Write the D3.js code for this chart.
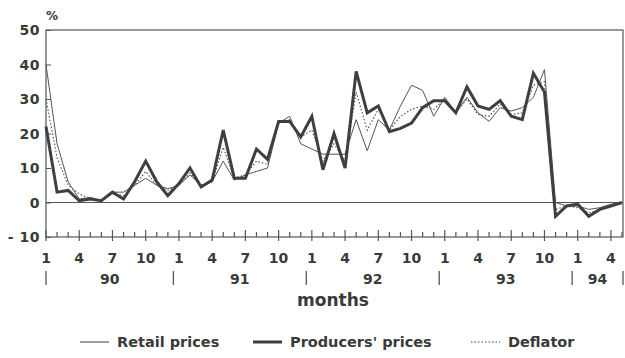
<!DOCTYPE html>
<html lang="en">
<head>
<meta charset="utf-8"/>
<script src="https://d3js.org/d3.v7.min.js"></script>
<style>
  body { margin: 0; background: #fff; }
  text { font-family: "DejaVu Sans", Arial, sans-serif; font-weight: bold; fill: #3a3a3a; }
</style>
</head>
<body>
<div id="chart"></div>
<script>
// monthly growth rates, Jan 1990 .. May 1994
var months = d3.range(53).map(function (i) { return (i % 12) + 1; });
var years = ["90", "91", "92", "93", "94"];

var retail = [40, 17, 6, 1, 1.5, 0.5, 3, 3, 5, 7, 5, 4,
              5, 8, 5, 6, 12, 6.5, 8, 9, 10, 23, 25, 17,
              15.5, 14, 14, 14, 24, 15, 24, 21, 28, 34, 32.5, 25,
              30.5, 26, 30.5, 26, 23.5, 27.5, 26.5, 27.5, 30.5, 38.5, 0, -1,
              -1, -2, -1.5, -0.5, 0];
var producers = [22, 3, 3.5, 0.5, 1, 0.5, 3, 1, 6, 12, 6, 2,
                 5.5, 10, 4.5, 6.5, 21, 7, 7, 15.5, 12.5, 23.5, 23.5, 19,
                 25, 9.5, 20, 10, 38, 26, 28, 20.5, 21.5, 23, 27.5, 29.5,
                 29.5, 26, 33.5, 28, 27, 29.5, 25, 24, 37.5, 32, -4, -1,
                 -0.5, -4, -2, -1, 0];
var deflator = [30, 13, 5, 2.5, 1, 0.5, 2.5, 2, 5, 9, 5, 3.5,
                5, 8.5, 5, 6, 16, 7, 8, 12, 11, 23, 24, 19,
                21, 12, 17, 12, 32, 21, 27, 21, 25, 27, 28, 27,
                30, 26, 30, 25.5, 25, 28.5, 25.5, 26, 34, 35, -2, -1,
                -1.5, -3, -2, -1, 0];
var yTicks = [-10, 0, 10, 20, 30, 40, 50];

var width = 625, height = 358;
var plotL = 46, plotR = 623, plotT = 30, plotB = 237;

var svg = d3.select("#chart").append("svg")
    .attr("width", width)
    .attr("height", height);

var x = d3.scaleLinear().domain([0, 52]).range([plotL, 622]);
var y = d3.scaleLinear().domain([-10, 50]).range([plotB, plotT]);

var ink = "#3d3f42";

// frame
svg.append("rect")
    .attr("x", plotL).attr("y", plotT)
    .attr("width", plotR - plotL).attr("height", plotB - plotT)
    .attr("fill", "none").attr("stroke", "#555").attr("stroke-width", 1.2);

// zero line
svg.append("line")
    .attr("x1", plotL).attr("x2", plotR)
    .attr("y1", y(0)).attr("y2", y(0))
    .attr("stroke", "#555").attr("stroke-width", 1.2);

// y axis
var yAxis = svg.append("g")
    .attr("transform", "translate(" + plotL + ",0)")
    .call(d3.axisRight(y).tickValues(yTicks).tickSize(5).tickFormat(""));
yAxis.select(".domain").remove();
yAxis.selectAll("line").attr("stroke", "#555");

svg.selectAll(".ylab")
    .data(yTicks)
    .enter().append("text")
    .attr("x", plotL - 6)
    .attr("y", function (d) { return y(d); })
    .attr("dy", "0.36em")
    .attr("text-anchor", "end")
    .attr("font-size", 14)
    .attr("letter-spacing", 0.5)
    .text(function (d) { return d < 0 ? "- " + Math.abs(d) : d; });

svg.append("text")
    .attr("x", 46).attr("y", 20)
    .attr("font-size", 12)
    .text("%");

// month ticks
svg.selectAll(".mtick")
    .data(months)
    .enter().append("line")
    .attr("x1", function (d, i) { return x(i); })
    .attr("x2", function (d, i) { return x(i); })
    .attr("y1", function (d) { return (d - 1) % 3 === 0 ? plotB - 7 : plotB - 5; })
    .attr("y2", function (d) { return (d - 1) % 3 === 0 ? plotB + 4 : plotB; })
    .attr("stroke", "#555").attr("stroke-width", 1.2);

var labelled = months.map(function (d, i) { return { m: d, i: i }; })
    .filter(function (d) { return (d.m - 1) % 3 === 0; });
svg.selectAll(".mlab")
    .data(labelled)
    .enter().append("text")
    .attr("x", function (d) { return x(d.i); })
    .attr("y", 263)
    .attr("text-anchor", "middle")
    .attr("font-size", 14)
    .text(function (d) { return d.m; });

// year separators and labels
var seps = years.map(function (yr, k) { return Math.max(plotL, x(k * 12 - 0.5)); });
seps.push(plotR);
svg.selectAll(".ysep")
    .data(seps)
    .enter().append("line")
    .attr("x1", function (d) { return d; })
    .attr("x2", function (d) { return d; })
    .attr("y1", 271).attr("y2", 285)
    .attr("stroke", "#555").attr("stroke-width", 1.3);

svg.selectAll(".yrlab")
    .data(years)
    .enter().append("text")
    .attr("x", function (d, k) { return (seps[k] + seps[k + 1]) / 2; })
    .attr("y", 284)
    .attr("text-anchor", "middle")
    .attr("font-size", 14)
    .text(function (d) { return d; });

svg.append("text")
    .attr("x", 333).attr("y", 306)
    .attr("text-anchor", "middle")
    .attr("font-size", 17)
    .text("months");

// series
var line = d3.line()
    .x(function (d, i) { return x(i); })
    .y(function (d) { return y(d); });

svg.append("path").datum(retail)
    .attr("d", line)
    .attr("fill", "none").attr("stroke", "#555").attr("stroke-width", 1);
svg.append("path").datum(deflator)
    .attr("d", line)
    .attr("fill", "none").attr("stroke", "#555").attr("stroke-width", 1.2)
    .attr("stroke-dasharray", "1.5,2");
svg.append("path").datum(producers)
    .attr("d", line)
    .attr("fill", "none").attr("stroke", ink).attr("stroke-width", 3)
    .attr("stroke-linejoin", "miter");

// legend
var legend = [
    { name: "Retail prices", x: 80, w: 1, dash: null },
    { name: "Producers' prices", x: 253, w: 3, dash: null },
    { name: "Deflator", x: 471, w: 1.2, dash: "1.5,2" }
];
var lg = svg.selectAll(".lg")
    .data(legend)
    .enter().append("g")
    .attr("transform", function (d) { return "translate(" + d.x + ",342)"; });
lg.append("line")
    .attr("x1", 0).attr("x2", 29).attr("y1", 0).attr("y2", 0)
    .attr("stroke", ink)
    .attr("stroke-width", function (d) { return d.w; })
    .attr("stroke-dasharray", function (d) { return d.dash; });
lg.append("text")
    .attr("x", 37).attr("y", 0).attr("dy", "0.36em")
    .attr("font-size", 14.5)
    .text(function (d) { return d.name; });
</script>
</body>
</html>
